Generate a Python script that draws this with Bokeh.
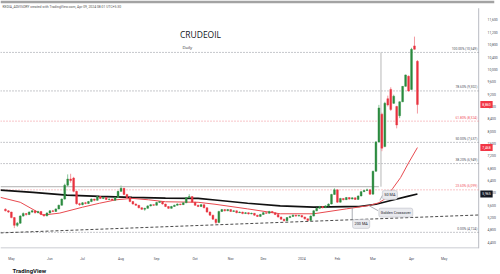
from bokeh.plotting import figure
from bokeh.models import ColumnDataSource, FixedTicker, Label, Range1d, NumeralTickFormatter, Title
from bokeh.embed import file_html
from bokeh.resources import INLINE
from bokeh.core.properties import value

# ---------------- data ----------------
opens = [5470, 5420, 5380, 5200, 4950, 5020, 5250, 5330, 5300, 5380,
         5420, 5360, 5400, 5300, 5260, 5350, 5420, 5400, 5480, 5600,
         5800, 6250, 6450, 6480, 6050, 5650, 5620, 5680, 5660, 5720,
         5800, 5760, 5880, 5820, 5850, 5790, 5800, 5760, 5850, 6050,
         6150, 5950, 5850, 5720, 5640, 5600, 5520, 5470, 5500, 5580,
         5620, 5600, 5690, 5720, 5640, 5560, 5500, 5560, 5600, 5640,
         5620, 5680, 5850, 5880, 5700, 5600, 5560, 5620, 5520, 5380,
         5280, 5150, 5040, 5400, 5460, 5420, 5460, 5400, 5420, 5360,
         5380, 5330, 5360, 5320, 5340, 5280, 5240, 5300, 5360, 5340,
         5400, 5360, 5300, 5220, 5150, 5100, 5200, 5240, 5280, 5250,
         5270, 5220, 5160, 5110, 5250, 5420, 5500, 5560, 5520, 5580,
         5640, 5950, 6100, 5700, 5820, 5780, 5850, 5800, 5840, 5790,
         5900, 6040, 6080, 6100, 5960, 6700, 7650, 8550, 7500, 9050,
         9350, 8900, 8800, 8500, 8950, 9450, 9780, 9350, 10760, 10260]
highs = [5500, 5440, 5390, 5220, 5060, 5280, 5370, 5350, 5400, 5450,
         5430, 5420, 5410, 5320, 5370, 5440, 5450, 5500, 5620, 5820,
         6300, 6600, 6620, 6520, 6070, 5680, 5700, 5710, 5740, 5820,
         5810, 5900, 5890, 5870, 5860, 5820, 5810, 5870, 6070, 6240,
         6160, 5970, 5860, 5740, 5660, 5610, 5530, 5520, 5600, 5640,
         5630, 5710, 5740, 5730, 5650, 5570, 5580, 5620, 5660, 5650,
         5700, 5870, 5960, 5890, 5710, 5620, 5640, 5630, 5530, 5400,
         5290, 5160, 5420, 5480, 5470, 5480, 5470, 5440, 5430, 5400,
         5390, 5380, 5370, 5360, 5350, 5290, 5320, 5380, 5370, 5420,
         5410, 5370, 5310, 5230, 5160, 5220, 5260, 5300, 5290, 5290,
         5280, 5230, 5170, 5270, 5440, 5520, 5580, 5570, 5600, 5660,
         5970, 6150, 6110, 5840, 5830, 5870, 5860, 5860, 5850, 5920,
         6060, 6100, 6140, 6110, 6720, 7680, 8850, 8600, 8950, 9150,
         9420, 9180, 8820, 8960, 9460, 9830, 9800, 10700, 11060, 10300]
lows = [5400, 5350, 5180, 4860, 4900, 5000, 5230, 5260, 5280, 5350,
        5330, 5340, 5280, 5230, 5240, 5330, 5380, 5390, 5470, 5590,
        5780, 6200, 6330, 6020, 5620, 5580, 5600, 5630, 5640, 5700,
        5730, 5750, 5800, 5800, 5770, 5770, 5740, 5750, 5840, 6030,
        5930, 5830, 5700, 5620, 5580, 5500, 5450, 5420, 5490, 5560,
        5580, 5590, 5680, 5620, 5540, 5480, 5490, 5550, 5590, 5600,
        5610, 5670, 5830, 5680, 5580, 5540, 5550, 5500, 5360, 5260,
        5130, 4990, 5030, 5380, 5400, 5410, 5380, 5390, 5340, 5350,
        5310, 5320, 5300, 5310, 5260, 5220, 5230, 5290, 5320, 5330,
        5340, 5280, 5200, 5130, 5080, 5090, 5190, 5230, 5230, 5240,
        5200, 5140, 5090, 5100, 5240, 5410, 5490, 5500, 5510, 5570,
        5630, 5940, 5680, 5690, 5760, 5770, 5780, 5790, 5770, 5780,
        5890, 6030, 6060, 5940, 5950, 6690, 7640, 7350, 7480, 8800,
        8650, 8880, 8090, 8420, 8940, 9440, 9280, 9340, 10640, 8570]
closes = [5420, 5380, 5200, 4950, 5020, 5250, 5330, 5300, 5380, 5420,
          5360, 5400, 5300, 5260, 5350, 5420, 5400, 5480, 5600, 5800,
          6250, 6450, 6400, 6050, 5650, 5620, 5680, 5660, 5720, 5800,
          5760, 5880, 5820, 5850, 5790, 5800, 5760, 5850, 6050, 6150,
          5950, 5850, 5720, 5640, 5600, 5520, 5470, 5500, 5580, 5620,
          5600, 5690, 5720, 5640, 5560, 5500, 5560, 5600, 5640, 5620,
          5680, 5850, 5880, 5700, 5600, 5560, 5620, 5520, 5380, 5280,
          5150, 5040, 5400, 5460, 5420, 5460, 5400, 5420, 5360, 5380,
          5330, 5360, 5320, 5340, 5280, 5240, 5300, 5360, 5340, 5400,
          5360, 5300, 5220, 5150, 5100, 5200, 5240, 5280, 5250, 5270,
          5220, 5160, 5110, 5250, 5420, 5500, 5560, 5520, 5580, 5640,
          5950, 6100, 5700, 5820, 5780, 5850, 5800, 5840, 5790, 5900,
          6040, 6080, 6100, 5960, 6700, 7650, 8750, 7450, 8900, 8850,
          8700, 9130, 8200, 8950, 9450, 9820, 9300, 10650, 10650, 8860]

# moving averages (bar index, price)
ma50_x = [-1.67, 5.0, 12.7, 18.3, 26.0, 31.7, 37.3, 42.7, 48.3, 54.0, 65.0, 70.7,
          81.7, 92.7, 104.0, 115.0, 122.7, 126.0, 128.3, 130.7, 133.3, 136.0, 139.0]
ma50_y = [5856, 5697, 5282, 5346, 5537, 5665, 5776, 5824, 5776, 5713, 5697, 5633,
          5483, 5324, 5324, 5483, 5591, 5681, 5824, 6150, 6493, 6971, 7468]
ma200_x = [-1.67, 9.3, 20.7, 31.7, 42.7, 54.0, 65.0, 70.7, 81.7, 92.7, 104.0,
           115.0, 119.3, 125.0, 130.7, 136.0, 139.0]
ma200_y = [6089, 6015, 5929, 5888, 5856, 5834, 5824, 5770, 5665, 5579, 5537,
           5553, 5560, 5633, 5770, 5897, 5965]

# dashed trend line and resistance line
trend_x = [-1.67, 159.67]
trend_y = [4705, 5285]
resist_x = [-1.67, 126.0]
resist_y = [6200, 6200]

# fibonacci retracement
fib_pcts = ["0.00%", "23.60%", "38.20%", "50.00%", "61.80%", "78.60%", "100.00%"]
fib_vals = [4724, 6099, 6949, 7637, 8324, 9302, 10549]
fib_red = [False, True, False, False, True, False, False]

month_ticks = [2, 15, 26, 39, 51, 64, 76, 87, 100, 112, 124, 137, 148]
month_labels = ["May", "Jun", "Jul", "Aug", "Sep", "Oct", "Nov", "Dec",
                "2024", "Feb", "Mar", "Apr", "May"]
price_ticks = [4400, 4800, 5200, 5600, 6000, 6400, 6800, 7200, 7600, 8000,
               8400, 8800, 9200, 9600, 10000, 10400, 10800, 11200, 11600]

# ---------------- figure ----------------
X0, XA, X1 = -1.667, 159.667, 165.0     # left edge, price-scale border, right edge
Y0, Y1 = 4200, 12230
p = figure(width=500, height=274, x_range=Range1d(X0, X1), y_range=Range1d(Y0, Y1),
           output_backend="svg", toolbar_location=None, title=None,
           y_axis_location="right", min_border_left=0, min_border_right=0,
           min_border_top=0, min_border_bottom=22)
p.outline_line_color = None
p.grid.grid_line_color = None
p.background_fill_color = "white"
p.border_fill_color = "white"

yax = p.yaxis[0]
yax.ticker = FixedTicker(ticks=price_ticks)
yax.formatter = NumeralTickFormatter(format="0,0")
yax.major_tick_line_color = None
yax.minor_tick_line_color = None
yax.axis_line_color = None
yax.major_label_text_font_size = "3.4px"
yax.major_label_text_color = "#4a4e59"
yax.major_label_text_font = "Roboto"
yax.major_label_standoff = -13

xax = p.xaxis[0]
xax.ticker = FixedTicker(ticks=month_ticks)
xax.major_label_overrides = {t: l for t, l in zip(month_ticks, month_labels)}
xax.major_tick_line_color = None
xax.minor_tick_line_color = None
xax.axis_line_color = None
xax.major_label_text_font_size = "3.4px"
xax.major_label_text_color = "#4a4e59"
xax.major_label_text_font = "Roboto"
xax.major_label_standoff = 2

# top strip, header, borders of the price scale and time scale
p.quad(left=[X0], right=[X1], top=[Y1], bottom=[Y1 - 90], color="#a3a3a3", line_color=None)
p.segment(x0=[XA], y0=[Y1 - 250], x1=[XA], y1=[Y0], line_color="#b8bbc2", line_width=1)
p.segment(x0=[X0], y0=[Y0 + 16], x1=[XA], y1=[Y0 + 16], line_color="#b8bbc2", line_width=1)
p.text(x=[-1.0], y=[12007], text=["KEDIA_ADVISORY created with TradingView.com, Apr 09, 2024 08:01 UTC+5:30"],
       text_font=value("Roboto"), text_font_size="3.4px", text_color="#555555",
       text_baseline="middle", text_align="left")
p.text(x=[65.8], y=[11130], text=["CRUDEOIL"], text_font=value("Open Sans"),
       text_font_size="8.5px", text_color="#131722", text_align="center", text_baseline="middle")
p.text(x=[59.7], y=[10732], text=["Daily"], text_font=value("Open Sans"),
       text_font_size="4.3px", text_color="#333333", text_align="left", text_baseline="middle")

# fib lines
fib_line_col = ["#f08a90" if r else "#8c8f98" for r in fib_red]
fib_text_col = ["#f0525c" if r else "#4f535e" for r in fib_red]
p.segment(x0=[X0] * len(fib_vals), y0=fib_vals, x1=[XA] * len(fib_vals), y1=fib_vals,
          line_color=fib_line_col, line_width=1, line_dash="1 2")
p.text(x=[159.2] * len(fib_vals), y=fib_vals,
       text=[f"{a} ({v:,})" for a, v in zip(fib_pcts, fib_vals)],
       text_font=value("Roboto"), text_font_size="3.3px", text_color=fib_text_col,
       text_align="right", text_baseline="bottom", y_offset=-1.5)
p.segment(x0=[126.7], y0=[resist_y[0]], x1=[126.7], y1=[fib_vals[-1]],
          line_color="#b8b8b8", line_width=1)

# resistance and trend lines
p.line(resist_x, resist_y, line_color="#b0b0b0", line_width=1)
p.line(trend_x, trend_y, line_color="#4a4a4a", line_width=1, line_dash="3 2")

# moving averages
p.line(ma200_x, ma200_y, line_color="#111111", line_width=1.7)
p.line(ma50_x, ma50_y, line_color="#e84a4f", line_width=1)

# candles
idx = list(range(len(closes)))
up = [c >= o for o, c in zip(opens, closes)]
src = ColumnDataSource(dict(
    x=idx,
    top=[max(o, c) for o, c in zip(opens, closes)],
    bottom=[min(o, c) for o, c in zip(opens, closes)],
    high=highs, low=lows,
    body=["#2b8a3e" if u else "#e8323f" for u in up],
    wick=["#8cc59a" if u else "#f39aa0" for u in up],
))
p.segment(x0="x", y0="low", x1="x", y1="high", line_color="wick", line_width=1, source=src)
p.vbar(x="x", width=0.62, top="top", bottom="bottom", fill_color="body",
       line_color="body", line_width=0.4, source=src)

# callouts
p.segment(x0=[117.0, 125.7, 127.3], y0=[5123, 5426, 5936], x1=[117.0, 122.7, 126.3],
          y1=[5537, 5585, 5760], line_color="#9598a1", line_width=0.8)
for tx, xx, yy in [("50 MA", 129.7, 5936), ("Golden Crossover", 131.7, 5362), ("200 MA", 120.0, 4996)]:
    p.add_layout(Label(x=xx, y=yy, text=tx, text_align="center", text_baseline="middle",
                       text_font_size="3.8px", text_font="Roboto", text_color="#1e222d",
                       background_fill_color="#e9eaee", border_line_color="#b4b7bf",
                       border_line_width=0.5, padding=2, border_radius=2))

# price labels on the price scale
for tx, yy, col in [(f"{closes[-1]:,}", closes[-1], "#f23645"),
                    (f"{ma50_y[-1]:,}", ma50_y[-1], "#f23645"),
                    (f"{ma200_y[-1]:,}", ma200_y[-1], "#131722")]:
    p.add_layout(Label(x=162.3, y=yy, text=tx, text_align="center", text_baseline="middle",
                       text_font_size="3.4px", text_font="Roboto", text_color="white",
                       background_fill_color=col, padding=2))

# TradingView logo text
p.add_layout(Title(text="TradingView", align="left", offset=12, standoff=2,
                   text_font_size="6px", text_font="Roboto", text_font_style="bold",
                   text_color="#131722"), "below")

open("out.html", "w").write(file_html(p, INLINE))
